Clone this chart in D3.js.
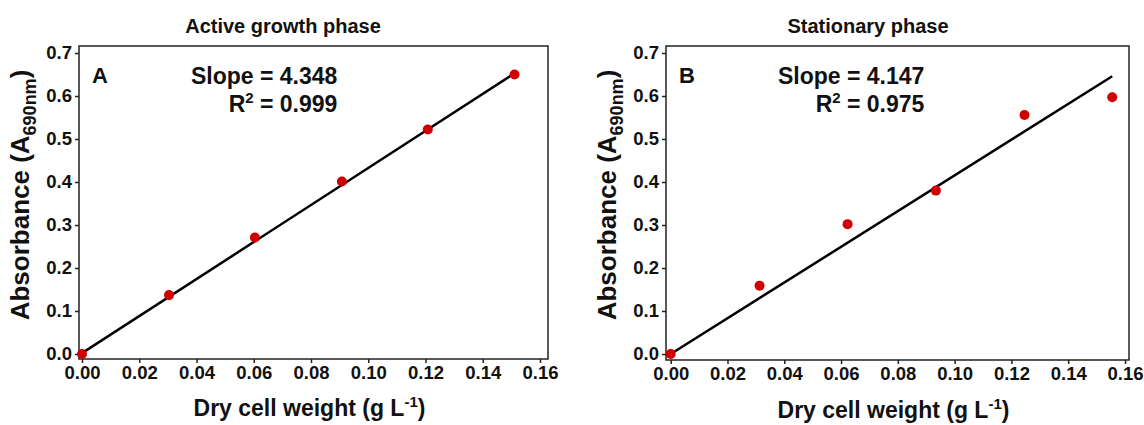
<!DOCTYPE html>
<html lang="en">
  <head>
  <meta charset="utf-8">
  <script type="text/javascript" src="https://cdn.jsdelivr.net/npm/d3@7"></script>
  <style type="text/css">
    body { margin: 0; background: #fff; }
    text { font-family: "Liberation Sans", Arial, sans-serif; font-weight: bold; fill: #111; }
    .axis path, .axis line { stroke: #222; stroke-width: 1.5; }
    .axis text { font-size: 18.5px; }
    .frame { fill: none; stroke: #222; stroke-width: 1.5; }
    .fit { fill: none; stroke: #000; stroke-width: 2.5; }
  </style>
  </head>
  <body>
    <div id="svg"></div>
    <script type="text/javascript">
      // data
      var titles = ["Active growth phase", "Stationary phase"];
      var panelLetters = ["A", "B"];
      var slopeText = ["Slope = 4.348", "Slope = 4.147"];
      var r2Text = ["0.999", "0.975"];

      var xA = [0, 0.0304, 0.0604, 0.0908, 0.1208, 0.1511];
      var yA = [0, 0.137, 0.271, 0.401, 0.522, 0.650];
      var xB = [0, 0.0313, 0.0623, 0.0934, 0.1246, 0.1555];
      var yB = [0, 0.159, 0.302, 0.380, 0.556, 0.597];

      // fitted line end points
      var fitXA = [0, 0.1514];
      var fitYA = [0.002, 0.654];
      var fitXB = [0, 0.1555];
      var fitYB = [0, 0.646];

      var xTicks = [0, 0.02, 0.04, 0.06, 0.08, 0.10, 0.12, 0.14, 0.16];
      var yTicks = [0, 0.1, 0.2, 0.3, 0.4, 0.5, 0.6, 0.7];

      var svg = d3.select("#svg").append("svg")
        .attr("width", 1144)
        .attr("height", 425);

      var panels = [
        {left: 79, right: 548, top: 46, bottom: 359, x0: 82, x16: 540, xs: xA, ys: yA, fx: fitXA, fy: fitYA, titleX: 283},
        {left: 666, right: 1129, top: 46, bottom: 360, x0: 670.7, x16: 1125, xs: xB, ys: yB, fx: fitXB, fy: fitYB, titleX: 868}
      ];

      panels.forEach(function(p, i){
        var g = svg.append("g");

        var x = d3.scaleLinear().domain([0, 0.16]).range([p.x0, p.x16]);
        var y = d3.scaleLinear().domain([0, 0.7]).range([354, 53]);

        // box
        g.append("rect")
          .attr("class", "frame")
          .attr("x", p.left)
          .attr("y", p.top)
          .attr("width", p.right - p.left)
          .attr("height", p.bottom - p.top);

        var yAxis = d3.axisLeft(y).tickValues(yTicks).tickFormat(d3.format(".1f")).tickSize(4).tickPadding(3).tickSizeOuter(0);
        var xAxis = d3.axisBottom(x).tickValues(xTicks).tickFormat(d3.format(".2f")).tickSize(4).tickPadding(3).tickSizeOuter(0);

        var ya = g.append("g")
          .attr("class", "axis")
          .attr("transform", "translate(" + p.left + ",0)")
          .call(yAxis);
        ya.select(".domain").remove();

        var xa = g.append("g")
          .attr("class", "axis")
          .attr("transform", "translate(0," + p.bottom + ")")
          .call(xAxis);
        xa.select(".domain").remove();

        // regression line
        var line = d3.line()
          .x(function(d){ return x(d[0]); })
          .y(function(d){ return y(d[1]); });
        g.append("path")
          .attr("class", "fit")
          .attr("d", line(d3.zip(p.fx, p.fy)));

        // points
        g.selectAll("circle")
          .data(d3.zip(p.xs, p.ys))
          .enter().append("circle")
            .attr("cx", function(d){ return x(d[0]); })
            .attr("cy", function(d){ return y(d[1]); })
            .attr("r", 5)
            .attr("fill", "#d10000");

        // titles and labels
        g.append("text")
          .attr("x", p.titleX)
          .attr("y", 33)
          .style("text-anchor", "middle")
          .style("font-size", "20px")
          .text(titles[i]);

        g.append("text")
          .attr("x", p.left + 13)
          .attr("y", 83)
          .style("font-size", "22px")
          .text(panelLetters[i]);

        var sx = p.left + 112;
        var slope = g.append("text")
          .attr("x", sx)
          .attr("y", 84)
          .style("font-size", "23px")
          .text(slopeText[i]);
        var sw = slope.node().getComputedTextLength();

        var r2 = g.append("text")
          .attr("x", sx + sw)
          .attr("y", 112)
          .style("text-anchor", "end")
          .style("font-size", "23px");
        r2.append("tspan").text("R");
        r2.append("tspan").attr("dy", -9).style("font-size", "15px").text("2");
        r2.append("tspan").attr("dy", 9).text(" = " + r2Text[i]);

        // x axis title
        var xt = g.append("text")
          .attr("x", (p.left + p.right) / 2 - 4)
          .attr("y", 416 + i * 2)
          .style("text-anchor", "middle")
          .style("font-size", "23px");
        xt.append("tspan").text("Dry cell weight (g L");
        xt.append("tspan").attr("dy", -9).style("font-size", "15px").text("-1");
        xt.append("tspan").attr("dy", 9).text(")");

        // y axis title
        var yt = g.append("text")
          .attr("transform", "translate(" + (p.left - 50) + ",195) rotate(-90)")
          .style("text-anchor", "middle")
          .style("font-size", "26px");
        yt.append("tspan").text("Absorbance (A");
        yt.append("tspan").attr("dy", 7).style("font-size", "18px").text("690nm");
        yt.append("tspan").attr("dy", -7).text(")");
      });
    </script>
  </body>
</html>
